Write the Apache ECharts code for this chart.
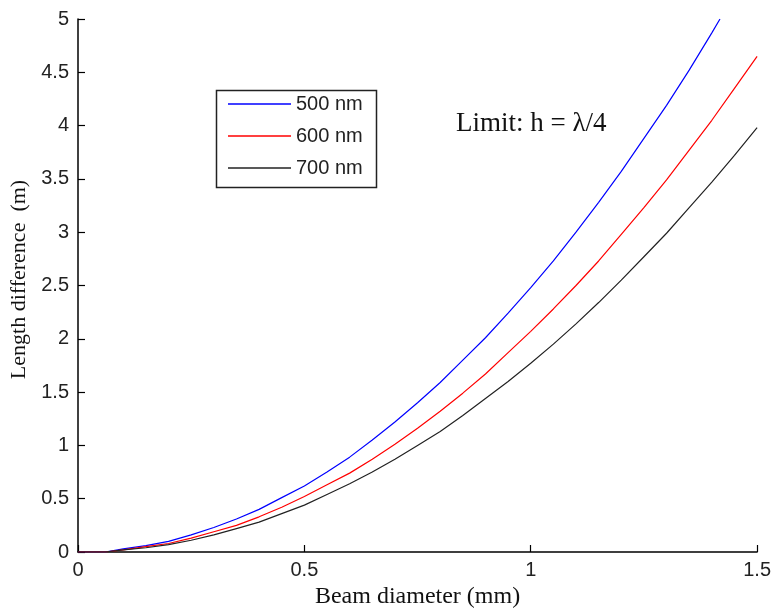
<!DOCTYPE html>
<html>
<head>
<meta charset="utf-8">
<script src="https://cdn.jsdelivr.net/npm/echarts@6/dist/echarts.min.js"></script>
<style>html,body{margin:0;padding:0;background:#fff}#c{width:774px;height:614px}</style>
</head>
<body>
<div id="c"></div>
<script>
var diameters = [0, 0.06, 0.1, 0.15, 0.2, 0.25, 0.3, 0.35, 0.4, 0.45, 0.5, 0.55, 0.6, 0.65, 0.7, 0.75, 0.8, 0.85, 0.9, 0.95, 1.0, 1.05, 1.1, 1.15, 1.2, 1.25, 1.3, 1.35, 1.4, 1.45, 1.5];
var nm500 = [0, 0.00, 0.03, 0.06, 0.10, 0.16, 0.23, 0.31, 0.40, 0.51, 0.62, 0.75, 0.89, 1.05, 1.22, 1.40, 1.59, 1.80, 2.01, 2.24, 2.48, 2.73, 3.00, 3.28, 3.57, 3.88, 4.19, 4.52, 4.87];
var nm500End = [1.418, 5.0];
var nm600 = [0, 0.00, 0.02, 0.05, 0.08, 0.13, 0.19, 0.25, 0.33, 0.42, 0.52, 0.63, 0.74, 0.87, 1.01, 1.16, 1.32, 1.49, 1.67, 1.87, 2.07, 2.28, 2.50, 2.73, 2.98, 3.23, 3.49, 3.77, 4.05, 4.35, 4.65];
var nm700 = [0, 0.00, 0.02, 0.04, 0.07, 0.11, 0.16, 0.22, 0.28, 0.36, 0.44, 0.54, 0.64, 0.75, 0.87, 1.00, 1.13, 1.28, 1.44, 1.60, 1.77, 1.95, 2.14, 2.34, 2.55, 2.77, 2.99, 3.23, 3.47, 3.72, 3.98];
var seriesNames = ['500 nm', '600 nm', '700 nm'];
var xTicks = [0, 0.5, 1, 1.5];
var yTicks = [0, 0.5, 1, 1.5, 2, 2.5, 3, 3.5, 4, 4.5, 5];

function pairs(xs, ys) {
  var out = [];
  for (var i = 0; i < ys.length; i++) out.push([xs[i], ys[i]]);
  return out;
}
var d500 = pairs(diameters, nm500); d500.push(nm500End);

var chart = echarts.init(document.getElementById('c'));
var axisTxt = {color: '#222', fontFamily: 'Liberation Sans', fontSize: 20};
chart.setOption({
  animation: false,
  backgroundColor: '#fff',
  grid: {left: 78, right: 12, top: 19, bottom: 57, containLabel: false},
  xAxis: {
    type: 'value', min: 0, max: 1.5, interval: 0.5,
    name: 'Beam diameter (mm)', nameLocation: 'middle', nameGap: 33,
    nameTextStyle: {fontFamily: 'Liberation Serif', fontSize: 24, color: '#111'},
    axisLine: {show: true, lineStyle: {color: '#000', width: 1.5}},
    axisTick: {show: true, inside: true, length: 7, lineStyle: {color: '#000', width: 1.2}},
    axisLabel: Object.assign({margin: 8, formatter: function (v) { return xTicks.indexOf(v) >= 0 ? String(v) : ''; }}, axisTxt),
    splitLine: {show: false}
  },
  yAxis: {
    type: 'value', min: 0, max: 5, interval: 0.5,
    name: 'Length difference  (m)', nameLocation: 'middle', nameGap: 44,
    nameTextStyle: {fontFamily: 'Liberation Serif', fontSize: 22, color: '#111', padding: [0, 0, 0, 12]},
    axisLine: {show: true, lineStyle: {color: '#000', width: 1.5}},
    axisTick: {show: true, inside: true, length: 7, lineStyle: {color: '#000', width: 1.2}},
    axisLabel: Object.assign({margin: 9, formatter: function (v) { return yTicks.indexOf(v) >= 0 ? String(v) : ''; }}, axisTxt),
    splitLine: {show: false}
  },
  legend: {
    orient: 'vertical', left: 215, top: 89,
    padding: [5, 11, 8, 13],
    icon: 'rect',
    itemWidth: 63, itemHeight: 1.5, itemGap: 12, itemTextGap: 6,
    textStyle: {fontFamily: 'Liberation Sans', fontSize: 20, color: '#222', lineHeight: 20},
    data: seriesNames,
    selectedMode: false
  },
  graphic: [
    {type: 'rect', left: 214, top: 88, shape: {width: 160, height: 97}, style: {fill: 'none', stroke: '#222', lineWidth: 1.5}, z: 100},
    {type: 'text', left: 456, top: 110, style: {text: 'Limit: h = \u03bb/4', font: '27px "Liberation Serif"', fill: '#111'}, z: 100}
  ],
  series: [
    {name: seriesNames[0], type: 'line', data: d500, symbol: 'none', lineStyle: {color: '#0000ff', width: 1.2}, itemStyle: {color: '#0000ff'}},
    {name: seriesNames[1], type: 'line', data: pairs(diameters, nm600), symbol: 'none', lineStyle: {color: '#ff0000', width: 1.2}, itemStyle: {color: '#ff0000'}},
    {name: seriesNames[2], type: 'line', data: pairs(diameters, nm700), symbol: 'none', lineStyle: {color: '#222', width: 1.2}, itemStyle: {color: '#222'}}
  ]
});
</script>
</body>
</html>
